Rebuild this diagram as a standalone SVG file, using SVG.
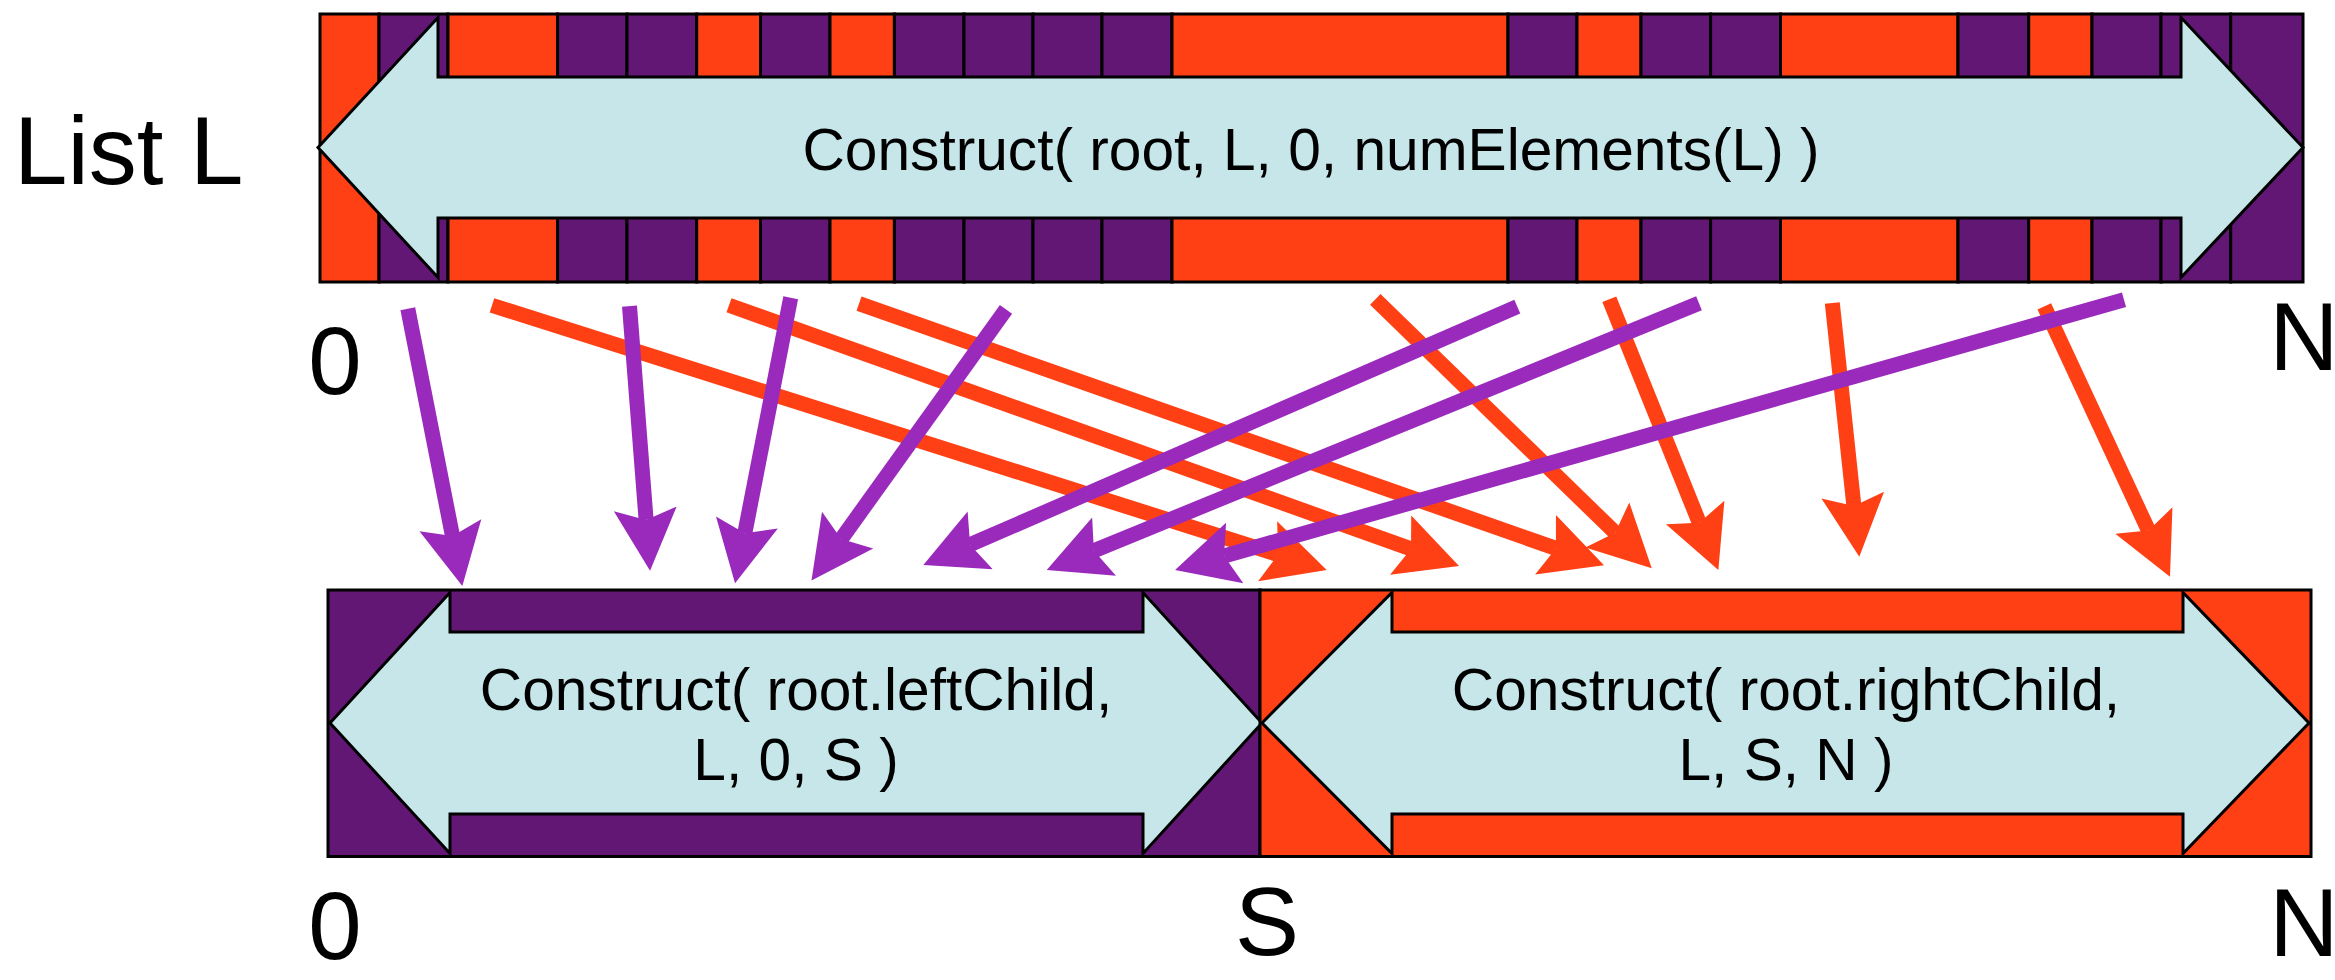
<svg xmlns="http://www.w3.org/2000/svg" width="2335" height="980" viewBox="0 0 2335 980">
<style>
.o{fill:#FF4015;stroke:#000;stroke-width:3}
.p{fill:#621775;stroke:#000;stroke-width:3}
.arr{fill:#C6E6EA;stroke:#000;stroke-width:3;stroke-linejoin:miter}
.lbl{font-family:"Liberation Sans",Arial,sans-serif;font-size:96px;fill:#000}
.fn{font-family:"Liberation Sans",Arial,sans-serif;font-size:58.67px;fill:#000;text-anchor:middle}
.cp{fill:none;stroke:#9A2ABC;stroke-width:15;stroke-linecap:butt}
.co{fill:none;stroke:#FF4015;stroke-width:15;stroke-linecap:butt}
</style>
<defs>
<marker id="hp" markerUnits="userSpaceOnUse" markerWidth="70" markerHeight="70" viewBox="0 -35 70 70" refX="11" refY="0" orient="auto"><path d="M0,-31.5 L62,0 L0,31.5 L11,0 Z" fill="#9A2ABC"/></marker>
<marker id="ho" markerUnits="userSpaceOnUse" markerWidth="70" markerHeight="70" viewBox="0 -35 70 70" refX="11" refY="0" orient="auto"><path d="M0,-31.5 L62,0 L0,31.5 L11,0 Z" fill="#FF4015"/></marker>
</defs>
<rect width="2335" height="980" fill="#fff"/>

<g id="list-L">
<rect class="o" x="320" y="14" width="59" height="268"/>
<rect class="p" x="379" y="14" width="69" height="268"/>
<rect class="o" x="448" y="14" width="109.6" height="268"/>
<rect class="p" x="557.6" y="14" width="69.4" height="268"/>
<rect class="p" x="627" y="14" width="69.7" height="268"/>
<rect class="o" x="696.7" y="14" width="63.8" height="268"/>
<rect class="p" x="760.5" y="14" width="69.5" height="268"/>
<rect class="o" x="830" y="14" width="64.4" height="268"/>
<rect class="p" x="894.4" y="14" width="69.6" height="268"/>
<rect class="p" x="964" y="14" width="69" height="268"/>
<rect class="p" x="1033" y="14" width="69" height="268"/>
<rect class="p" x="1102" y="14" width="70" height="268"/>
<rect class="o" x="1172" y="14" width="336" height="268"/>
<rect class="p" x="1508" y="14" width="69" height="268"/>
<rect class="o" x="1577" y="14" width="64" height="268"/>
<rect class="p" x="1641" y="14" width="69.6" height="268"/>
<rect class="p" x="1710.6" y="14" width="69.9" height="268"/>
<rect class="o" x="1780.5" y="14" width="177.5" height="268"/>
<rect class="p" x="1958" y="14" width="70.7" height="268"/>
<rect class="o" x="2028.7" y="14" width="63.3" height="268"/>
<rect class="p" x="2092" y="14" width="69" height="268"/>
<rect class="p" x="2161" y="14" width="69.7" height="268"/>
<rect class="p" x="2230.7" y="14" width="72.3" height="268"/>
<path class="arr" d="M318,147.5 L438,17.5 L438,77 L2181,77 L2181,17.5 L2303,147.5 L2181,277.5 L2181,218 L438,218 L438,277.5 Z"/>
<text class="fn" x="1311" y="170">Construct( root, L, 0, numElements(L) )</text>
</g>

<g id="left-child">
<rect class="p" x="328" y="590" width="932" height="266.5"/>
<path class="arr" d="M330,723 L450,592.5 L450,632 L1143,632 L1143,592.5 L1262,723 L1143,853.5 L1143,814 L450,814 L450,853.5 Z"/>
<text class="fn" x="796" y="710">Construct( root.leftChild,</text>
<text class="fn" x="796" y="780">L, 0, S )</text>
</g>

<g id="right-child">
<rect class="o" x="1260" y="590" width="1051" height="266.5"/>
<path class="arr" d="M1262,723 L1392,592.5 L1392,632 L2183,632 L2183,592.5 L2309,723 L2183,853.5 L2183,814 L1392,814 L1392,853.5 Z"/>
<text class="fn" x="1786" y="710">Construct( root.rightChild,</text>
<text class="fn" x="1786" y="780">L, S, N )</text>
</g>

<g id="labels">
<text class="lbl" x="14" y="184">List L</text>
<text class="lbl" x="335" y="394" text-anchor="middle">0</text>
<text class="lbl" x="2304" y="370" text-anchor="middle">N</text>
<text class="lbl" x="335" y="959" text-anchor="middle">0</text>
<text class="lbl" x="1267" y="955" text-anchor="middle">S</text>
<text class="lbl" x="2304" y="956" text-anchor="middle">N</text>
</g>

<g id="connectors">
<line class="co" x1="492" y1="305.3" x2="1278.1" y2="554.6" marker-end="url(#ho)"/>
<line class="co" x1="729" y1="305.3" x2="1411" y2="548.9" marker-end="url(#ho)"/>
<line class="co" x1="859" y1="303.7" x2="1555.9" y2="548.4" marker-end="url(#ho)"/>
<line class="co" x1="1375.3" y1="299.3" x2="1615.2" y2="532.7" marker-end="url(#ho)"/>
<line class="co" x1="1609.3" y1="299.3" x2="1699.3" y2="522.7" marker-end="url(#ho)"/>
<line class="co" x1="1832.3" y1="303" x2="1853.9" y2="506" marker-end="url(#ho)"/>
<line class="co" x1="2044.3" y1="306.3" x2="2148.5" y2="530.5" marker-end="url(#ho)"/>
<line class="cp" x1="407.8" y1="308.7" x2="452.5" y2="536" marker-end="url(#hp)"/>
<line class="cp" x1="629.5" y1="306.2" x2="646.1" y2="519.9" marker-end="url(#hp)"/>
<line class="cp" x1="790.7" y1="297.7" x2="744.8" y2="533.2" marker-end="url(#hp)"/>
<line class="cp" x1="1006" y1="309.3" x2="841.2" y2="539.1" marker-end="url(#hp)"/>
<line class="cp" x1="1517.3" y1="306.7" x2="970.1" y2="544.7" marker-end="url(#hp)"/>
<line class="cp" x1="1699" y1="303.3" x2="1093.9" y2="550.7" marker-end="url(#hp)"/>
<line class="cp" x1="2124" y1="299.7" x2="1224.1" y2="556" marker-end="url(#hp)"/>
</g>
</svg>
